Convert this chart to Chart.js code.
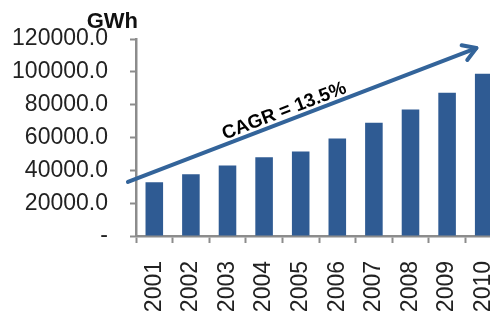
<!DOCTYPE html>
<html>
<head>
<meta charset="utf-8">
<script src="https://cdn.jsdelivr.net/npm/chart.js@4/dist/chart.umd.min.js"></script>
<style>
  html, body { margin: 0; padding: 0; background: #fff; overflow: hidden; }
  #wrap { width: 502px; height: 315px; }
</style>
</head>
<body>
<div id="wrap"><canvas id="grafico"></canvas></div>
<script>
const years = ['2001', '2002', '2003', '2004', '2005', '2006', '2007', '2008', '2009', '2010'];
const consumo = [32700, 37600, 43000, 47900, 51500, 59400, 69000, 77000, 87300, 98800];
const yTicks = [0, 20000, 40000, 60000, 80000, 100000, 120000];
const unidade = 'GWh';
const cagrTexto = 'CAGR = 13.5%';
// arrow ends, in (category index, value)
const setaInicio = [-0.72, 32900];
const setaFim = [8.8, 114500];
const textoPos = [3.55, 76000];

const fonte = '"Liberation Sans", Arial, sans-serif';
const corEixo = '#8c8c8c';

const extras = {
    id: 'extras',
    afterDatasetsDraw(chart) {
        const c = chart.ctx;
        const x = chart.scales.x, y = chart.scales.y;
        const x1 = x.getPixelForValue(setaInicio[0]), y1 = y.getPixelForValue(setaInicio[1]);
        const x2 = x.getPixelForValue(setaFim[0]), y2 = y.getPixelForValue(setaFim[1]);
        const ang = Math.atan2(y2 - y1, x2 - x1);

        c.save();
        c.strokeStyle = '#33649a';
        c.lineWidth = 4;
        c.lineCap = 'round';
        c.lineJoin = 'round';
        c.beginPath();
        c.moveTo(x1, y1);
        c.lineTo(x2, y2);
        c.stroke();
        const arm = 15;
        c.beginPath();
        c.moveTo(x2 - arm * Math.cos(ang - 0.55), y2 - arm * Math.sin(ang - 0.55));
        c.lineTo(x2, y2);
        c.lineTo(x2 - arm * Math.cos(ang + 0.55), y2 - arm * Math.sin(ang + 0.55));
        c.stroke();

        // CAGR label along the arrow
        const tx = x.getPixelForValue(textoPos[0]), ty = y.getPixelForValue(textoPos[1]);
        c.translate(tx, ty);
        c.rotate(ang);
        c.font = 'bold 19px ' + fonte;
        c.textAlign = 'center';
        c.textBaseline = 'middle';
        c.strokeStyle = '#ffffff';
        c.lineWidth = 4;
        c.strokeText(cagrTexto, 0, 0);
        c.fillStyle = '#000';
        c.fillText(cagrTexto, 0, 0);
        c.restore();

        // unit label
        c.save();
        c.font = 'bold 22px ' + fonte;
        c.fillStyle = '#111';
        c.textAlign = 'right';
        c.textBaseline = 'alphabetic';
        c.fillText(unidade, chart.chartArea.left + 2, 28);
        c.restore();
    }
};

const ctx = document.getElementById('grafico').getContext('2d');
const grafico = new Chart(ctx, {
    type: 'bar',
    data: {
        labels: years,
        datasets: [{
            label: unidade,
            data: consumo,
            backgroundColor: '#2f5b93',
            barPercentage: 0.5,
            categoryPercentage: 0.96
        }]
    },
    options: {
        responsive: true,
        maintainAspectRatio: false,
        animation: false,
        layout: { padding: { top: 39, right: 0, left: 0, bottom: 0 } },
        plugins: {
            legend: { display: false },
            tooltip: { enabled: false }
        },
        scales: {
            x: {
                offset: true,
                grid: {
                    offset: true,
                    drawOnChartArea: false,
                    tickLength: 7,
                    tickColor: corEixo,
                    tickWidth: 2
                },
                border: { color: corEixo, width: 2.5 },
                ticks: {
                    minRotation: 90,
                    maxRotation: 90,
                    padding: 18,
                    color: '#222',
                    font: { family: fonte, size: 23 }
                },
                afterFit(s) {
                    s.height = 79;
                    s.paddingLeft = 0;
                    s.paddingRight = 0;
                }
            },
            y: {
                min: 0,
                max: 120000,
                afterBuildTicks(s) { s.ticks = yTicks.map(v => ({ value: v })); },
                grid: {
                    drawOnChartArea: false,
                    tickLength: 6,
                    tickColor: corEixo,
                    tickWidth: 2
                },
                border: { color: corEixo, width: 2.5 },
                ticks: {
                    padding: 22,
                    color: '#222',
                    font: { family: fonte, size: 23 },
                    callback: v => v === 0 ? '-' : v.toFixed(1)
                },
                afterFit(s) { s.width = 136; }
            }
        }
    },
    plugins: [extras]
});
</script>
</body>
</html>
